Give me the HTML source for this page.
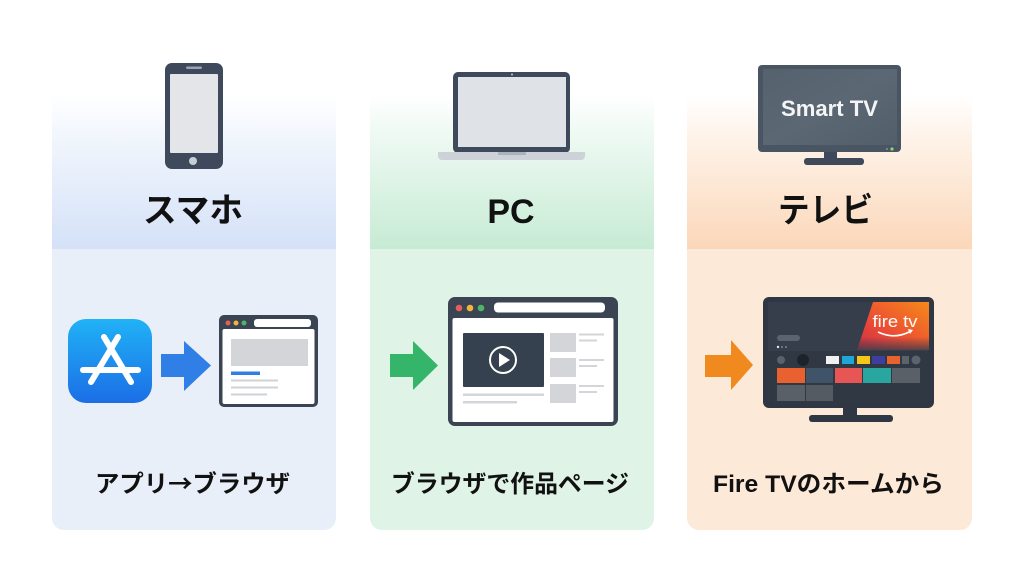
<!DOCTYPE html>
<html><head><meta charset="utf-8"><style>
html,body{margin:0;padding:0;background:#fff;width:1024px;height:572px;overflow:hidden}
svg{display:block}
.t{font-family:"Liberation Sans","Noto Sans CJK JP",sans-serif;font-weight:bold;fill:#111}
</style></head><body>
<svg width="1024" height="572" viewBox="0 0 1024 572" xmlns="http://www.w3.org/2000/svg">
<defs>
<linearGradient id="hb" x1="0" y1="0" x2="0" y2="1"><stop offset="0" stop-color="#d6e3f8" stop-opacity="0"/><stop offset="0.25" stop-color="#d6e3f8" stop-opacity="0.3"/><stop offset="1" stop-color="#d4e1f7"/></linearGradient>
<linearGradient id="hg" x1="0" y1="0" x2="0" y2="1"><stop offset="0" stop-color="#c8ecd6" stop-opacity="0"/><stop offset="0.25" stop-color="#c8ecd6" stop-opacity="0.3"/><stop offset="1" stop-color="#c6ebd4"/></linearGradient>
<linearGradient id="ho" x1="0" y1="0" x2="0" y2="1"><stop offset="0" stop-color="#fcd9bc" stop-opacity="0"/><stop offset="0.25" stop-color="#fcd9bc" stop-opacity="0.3"/><stop offset="1" stop-color="#fbd7b9"/></linearGradient>
<linearGradient id="app" x1="0" y1="0" x2="0" y2="1"><stop offset="0" stop-color="#20b2f6"/><stop offset="1" stop-color="#1c6ee6"/></linearGradient>
<linearGradient id="ban" x1="1" y1="0" x2="0" y2="1"><stop offset="0" stop-color="#f58a1a"/><stop offset="0.6" stop-color="#ec4b34"/><stop offset="1" stop-color="#c8304a"/></linearGradient>
<linearGradient id="banf" x1="0" y1="0" x2="0" y2="1"><stop offset="0.7" stop-color="#353e4a" stop-opacity="0"/><stop offset="1" stop-color="#353e4a" stop-opacity="0.9"/></linearGradient>
<linearGradient id="tvs" x1="0" y1="0" x2="1" y2="1"><stop offset="0" stop-color="#56616e"/><stop offset="0.5" stop-color="#5c6774"/><stop offset="1" stop-color="#535e6b"/></linearGradient>
</defs>

<!-- panels -->
<rect x="52" y="95" width="284" height="154" fill="url(#hb)"/>
<path d="M52 249H336V518a12 12 0 0 1-12 12H64a12 12 0 0 1-12-12Z" fill="#e9eff9"/>
<rect x="370" y="95" width="284" height="154" fill="url(#hg)"/>
<path d="M370 249H654V518a12 12 0 0 1-12 12H382a12 12 0 0 1-12-12Z" fill="#dff3e6"/>
<rect x="687" y="95" width="285" height="154" fill="url(#ho)"/>
<path d="M687 249H972V518a12 12 0 0 1-12 12H699a12 12 0 0 1-12-12Z" fill="#fde9d8"/>

<!-- phone -->
<rect x="165" y="63" width="58" height="106" rx="7" fill="#3e4a5b"/>
<rect x="170" y="74" width="48" height="79" rx="1" fill="#e3e5e8"/>
<rect x="186" y="66.5" width="16" height="2.5" rx="1.2" fill="#9aa4b0"/>
<circle cx="193" cy="161" r="4" fill="#c8ced6"/>

<!-- laptop -->
<rect x="453" y="72" width="117" height="81" rx="5" fill="#3e4a5b"/>
<rect x="458" y="77" width="108" height="70" fill="#dfe2e6"/>
<circle cx="512" cy="74.5" r="1" fill="#c0c6cc"/>
<path d="M438 152H585V156a4 4 0 0 1-4 4H442a4 4 0 0 1-4-4Z" fill="#cdd2d8"/>
<rect x="498" y="152" width="28" height="3" rx="1" fill="#aab2bb"/>

<!-- smart tv -->
<rect x="758" y="65" width="143" height="87" rx="4" fill="#4a5563"/>
<rect x="763" y="69" width="134" height="76" fill="url(#tvs)"/>
<text x="829.5" y="116" text-anchor="middle" font-family="Liberation Sans, sans-serif" font-weight="bold" font-size="22" fill="#f4f5f6" textLength="97" lengthAdjust="spacingAndGlyphs">Smart TV</text>
<circle cx="887" cy="149" r="0.9" fill="#9aa4b0"/>
<circle cx="892" cy="149" r="1.6" fill="#8cd66f"/>
<rect x="824" y="152" width="13" height="7" fill="#3e4a5b"/>
<rect x="804" y="158" width="60" height="7" rx="3" fill="#3e4a5b"/>

<!-- titles -->
<text class="t" x="193" y="222" text-anchor="middle" font-size="34" textLength="100" lengthAdjust="spacingAndGlyphs">スマホ</text>
<text x="511" y="223" text-anchor="middle" font-family="Liberation Sans, sans-serif" font-weight="bold" font-size="34" fill="#111">PC</text>
<text class="t" x="825.5" y="222" text-anchor="middle" font-size="34" textLength="95" lengthAdjust="spacingAndGlyphs">テレビ</text>

<!-- app store icon -->
<rect x="68" y="319" width="84" height="84" rx="18" fill="url(#app)"/>
<g stroke="#fff" stroke-width="6" stroke-linecap="round" fill="none">
<line x1="118" y1="337" x2="91" y2="382"/>
<line x1="104" y1="337" x2="131" y2="382"/>
<line x1="83" y1="370" x2="138" y2="370"/>
</g>

<!-- blue arrow -->
<polygon points="161,354 184,354 184,341 211,365.5 184,391 184,377 161,377" fill="#2f7fe6"/>

<!-- left browser -->
<rect x="219" y="315" width="99" height="92" rx="5" fill="#3a4452"/>
<rect x="222.5" y="329" width="92" height="75" rx="2" fill="#fff"/>
<circle cx="228" cy="323" r="2.5" fill="#e2605a"/>
<circle cx="236" cy="323" r="2.5" fill="#f0b53a"/>
<circle cx="244" cy="323" r="2.5" fill="#4cb56a"/>
<rect x="254" y="319" width="57" height="8" rx="3" fill="#fff"/>
<rect x="231" y="339" width="77" height="27" fill="#d3d5d8"/>
<rect x="231" y="371.5" width="29" height="3.5" fill="#2f7fe6"/>
<rect x="231" y="379.5" width="47" height="2" fill="#cfd2d6"/>
<rect x="231" y="386.5" width="47" height="2" fill="#cfd2d6"/>
<rect x="231" y="393.5" width="36" height="2" fill="#cfd2d6"/>

<!-- green arrow -->
<polygon points="390,354 413,354 413,341 438,365.5 413,390 413,377 390,377" fill="#34b56a"/>

<!-- middle browser -->
<rect x="448" y="297" width="170" height="129" rx="7" fill="#3a4452"/>
<rect x="452.5" y="318" width="161" height="104" rx="2" fill="#fff"/>
<circle cx="459" cy="308" r="3.3" fill="#e2605a"/>
<circle cx="470" cy="308" r="3.3" fill="#f0b53a"/>
<circle cx="481" cy="308" r="3.3" fill="#4cb56a"/>
<rect x="494" y="302.5" width="111" height="10" rx="4" fill="#fff"/>
<rect x="463" y="333" width="81" height="54" rx="1" fill="#36414f"/>
<circle cx="503" cy="360" r="13" stroke="#fff" stroke-width="2" fill="none"/>
<polygon points="499,353 499,367 510,360" fill="#fff"/>
<g fill="#d3d5d8">
<rect x="550" y="333" width="26" height="19"/>
<rect x="550" y="358" width="26" height="19"/>
<rect x="550" y="384" width="26" height="19"/>
<rect x="579" y="333.5" width="25" height="2"/>
<rect x="579" y="339.5" width="18" height="2"/>
<rect x="579" y="359" width="25" height="2"/>
<rect x="579" y="365" width="18" height="2"/>
<rect x="579" y="385" width="25" height="2"/>
<rect x="579" y="391" width="18" height="2"/>
<rect x="463" y="393.5" width="81" height="2.5"/>
<rect x="463" y="401" width="54" height="2.5"/>
</g>

<!-- orange arrow -->
<polygon points="705,355 731,355 731,340 753,365 731,390 731,377 705,377" fill="#f08a1e"/>

<!-- fire tv -->
<rect x="843" y="405" width="14" height="12" fill="#2e3743"/>
<rect x="809" y="415" width="84" height="7" rx="3" fill="#2e3743"/>
<rect x="763" y="297" width="171" height="111" rx="6" fill="#2e3743"/>
<rect x="768" y="302" width="161" height="101" fill="#353e4a"/>
<polygon points="873,302 929,302 929,350 857,350" fill="url(#ban)"/>
<rect x="855" y="302" width="74" height="50" fill="url(#banf)"/>
<rect x="768" y="351" width="161" height="52" fill="#303844"/>
<text x="895" y="327" text-anchor="middle" font-family="Liberation Sans, sans-serif" font-size="17" fill="#fff" textLength="45" lengthAdjust="spacingAndGlyphs">fire tv</text>
<path d="M878 332Q895 340 911 331" stroke="#fff" stroke-width="1.6" fill="none"/>
<polygon points="908,329 913,330 910,334" fill="#fff"/>
<rect x="777" y="335" width="23" height="6" rx="3" fill="#5a636e"/>
<circle cx="778" cy="347" r="1.2" fill="#e8e8e8"/>
<circle cx="782" cy="347" r="1" fill="#7d858e"/>
<circle cx="786" cy="347" r="1" fill="#7d858e"/>
<circle cx="781" cy="360" r="4" fill="#59626d"/>
<circle cx="803" cy="360" r="6" fill="#1c232b"/>
<rect x="826" y="356" width="13" height="8" fill="#f1f1f1"/>
<rect x="842" y="356" width="12" height="8" fill="#1ea7d6"/>
<rect x="857" y="356" width="13" height="8" fill="#f5c518"/>
<rect x="872" y="356" width="13" height="8" fill="#3d3fa0"/>
<rect x="887" y="356" width="13" height="8" fill="#e8622d"/>
<rect x="902" y="356" width="7" height="8" fill="#5b636c"/>
<circle cx="916" cy="360" r="4.5" fill="#5b636c"/>
<rect x="777" y="368" width="28" height="15" fill="#e8612e"/>
<rect x="806" y="368" width="27" height="15" fill="#3f5468"/>
<rect x="835" y="368" width="27" height="15" fill="#e85555"/>
<rect x="863" y="368" width="28" height="15" fill="#2aa6a0"/>
<rect x="892" y="368" width="28" height="15" fill="#5a6068"/>
<rect x="777" y="385" width="28" height="16" fill="#5a6068"/>
<rect x="806" y="385" width="27" height="16" fill="#545b63"/>

<!-- labels -->
<text x="192.5" y="492" text-anchor="middle" font-family="Noto Sans CJK JP, sans-serif" font-weight="bold" font-size="24" fill="#111" textLength="195" lengthAdjust="spacingAndGlyphs">アプリ→ブラウザ</text>
<text class="t" x="510" y="492" text-anchor="middle" font-size="24" textLength="238" lengthAdjust="spacingAndGlyphs">ブラウザで作品ページ</text>
<text class="t" x="828.5" y="492" text-anchor="middle" font-size="24" textLength="231" lengthAdjust="spacingAndGlyphs">Fire TVのホームから</text>
</svg>
</body></html>
